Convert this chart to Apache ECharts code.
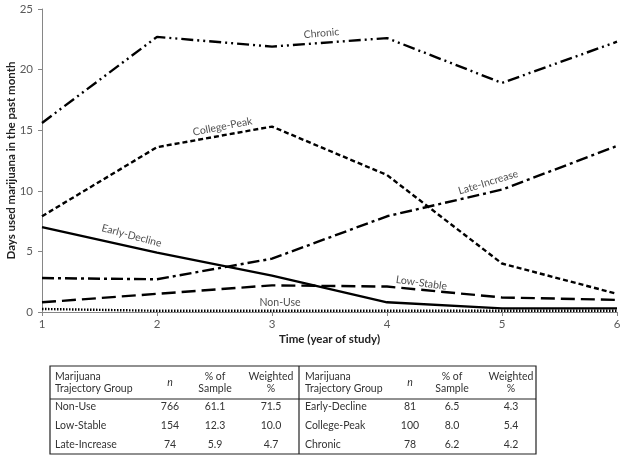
<!DOCTYPE html>
<html><head><meta charset="utf-8">
<script src="https://cdn.jsdelivr.net/npm/echarts@6/dist/echarts.min.js"></script>
<style>html,body{margin:0;padding:0;background:#fff}#c{width:625px;height:460px}</style>
</head><body><div id="c"></div>
<script>
const years = [1, 2, 3, 4, 5, 6];
const yTicks = [0, 5, 10, 15, 20, 25];
const chronic      = [15.6, 22.7, 21.9, 22.6, 18.9, 22.3];
const collegePeak  = [7.9, 13.6, 15.3, 11.3, 4.0, 1.5];
const lateIncrease = [2.8, 2.7, 4.4, 7.9, 10.1, 13.7];
const earlyDecline = [7.0, 4.9, 3.0, 0.8, 0.3, 0.3];
const lowStable    = [0.8, 1.5, 2.2, 2.1, 1.2, 1.0];
const nonUse       = [0.25, 0.1, 0.1, 0.1, 0.1, 0.1];

// inline label anchors (data coordinates)
const labelNames = ['Chronic', 'College-Peak', 'Late-Increase', 'Early-Decline', 'Low-Stable', 'Non-Use'];
const labelX = [3.43, 2.57, 4.88, 1.78, 4.3, 3.07];
const labelY = [23.0, 15.3, 10.7, 6.3, 2.4, 0.8];
const labelRot = [5, 11, 17, -15, -8, 0];

// table
const tableHeader = [['Marijuana', 'Trajectory Group'], ['n'], ['% of', 'Sample'], ['Weighted', '%']];
const tableLeftGroups = ['Non-Use', 'Low-Stable', 'Late-Increase'];
const tableLeftN = ['766', '154', '74'];
const tableLeftPct = ['61.1', '12.3', '5.9'];
const tableLeftW = ['71.5', '10.0', '4.7'];
const tableRightGroups = ['Early-Decline', 'College-Peak', 'Chronic'];
const tableRightN = ['81', '100', '78'];
const tableRightPct = ['6.5', '8.0', '6.2'];
const tableRightW = ['4.3', '5.4', '4.2'];

const FONT = 'Lato';
const seriesDefs = [
  { name: 'Chronic', data: chronic, type: [12, 4, 2, 4, 2, 4] },
  { name: 'College-Peak', data: collegePeak, type: [5, 3] },
  { name: 'Late-Increase', data: lateIncrease, type: [12, 4, 3, 4] },
  { name: 'Early-Decline', data: earlyDecline, type: 'solid' },
  { name: 'Low-Stable', data: lowStable, type: [14, 6] },
  { name: 'Non-Use', data: nonUse, type: [1.5, 1.5] }
];

const series = seriesDefs.map(d => ({
  name: d.name, type: 'line', symbol: 'none', silent: true,
  data: years.map((x, i) => [x, d.data[i]]),
  lineStyle: { color: '#000', width: 2.4, type: d.type }
}));
series.push({
  type: 'scatter', symbolSize: 0, silent: true,
  data: labelNames.map((n, i) => ({ value: [labelX[i], labelY[i]], name: n,
    label: { show: true, position: 'inside', formatter: n, rotate: labelRot[i],
      color: '#222', fontSize: 10.5, fontFamily: FONT } }))
});

// table graphics
const g = [];
const tL = 50, tR = 536, tT = 366, tB = 454, hB = 399, mid = 299;
g.push({ type: 'rect', shape: { x: tL, y: tT, width: tR - tL, height: tB - tT }, style: { fill: 'none', stroke: '#222', lineWidth: 1.2 } });
g.push({ type: 'line', shape: { x1: tL, y1: hB, x2: tR, y2: hB }, style: { stroke: '#222', lineWidth: 1 } });
g.push({ type: 'line', shape: { x1: mid, y1: tT, x2: mid, y2: tB }, style: { stroke: '#222', lineWidth: 1.2 } });
const rowsY = [407, 426, 445];
function txt(x, y, s, align, italic) {
  g.push({ type: 'text', x: x, y: y, style: { text: s, fill: '#333', font: (italic ? 'italic ' : '') + '10.5px ' + FONT, textAlign: align, textVerticalAlign: 'middle' } });
}
function half(x0, colX, groups, ns, pcts, ws) {
  txt(x0, 377, tableHeader[0][0], 'left');
  txt(x0, 389, tableHeader[0][1], 'left');
  txt(colX[0], 383, tableHeader[1][0], 'center', true);
  txt(colX[1], 377, tableHeader[2][0], 'center');
  txt(colX[1], 389, tableHeader[2][1], 'center');
  txt(colX[2], 377, tableHeader[3][0], 'center');
  txt(colX[2], 389, tableHeader[3][1], 'center');
  groups.forEach((gr, i) => {
    txt(x0, rowsY[i], gr, 'left');
    txt(colX[0], rowsY[i], ns[i], 'center');
    txt(colX[1], rowsY[i], pcts[i], 'center');
    txt(colX[2], rowsY[i], ws[i], 'center');
  });
}
half(55, [170, 215, 271], tableLeftGroups, tableLeftN, tableLeftPct, tableLeftW);
half(305, [410, 452, 511], tableRightGroups, tableRightN, tableRightPct, tableRightW);

const chart = echarts.init(document.getElementById('c'), null, { renderer: 'canvas' });
chart.setOption({
  animation: false,
  backgroundColor: '#fff',
  grid: { left: 42, right: 8, top: 9, bottom: 148, containLabel: false, outerBoundsMode: 'none' },
  xAxis: {
    type: 'value', min: 1, max: 6, interval: 1,
    name: 'Time (year of study)', nameLocation: 'middle', nameGap: 21, nameMoveOverlap: false,
    nameTextStyle: { fontFamily: FONT, fontWeight: 'bold', fontSize: 11.5, color: '#222' },
    axisLine: { lineStyle: { color: '#868686', width: 1 } },
    axisTick: { show: true, length: 4, lineStyle: { color: '#868686' } },
    axisLabel: { color: '#595959', fontSize: 11.5, fontFamily: FONT, margin: 6, formatter: v => years.includes(v) ? String(v) : '' },
    splitLine: { show: false }
  },
  yAxis: {
    type: 'value', min: 0, max: 25, interval: 5,
    name: 'Days used marijuana in the past month', nameLocation: 'middle', nameGap: 25, nameMoveOverlap: false,
    nameTextStyle: { fontFamily: FONT, fontWeight: 'bold', fontSize: 11.5, color: '#222' },
    axisLine: { show: true, lineStyle: { color: '#868686', width: 1 } },
    axisTick: { show: true, length: 4, lineStyle: { color: '#868686' } },
    axisLabel: { color: '#595959', fontSize: 11.5, fontFamily: FONT, margin: 9, formatter: v => yTicks.includes(v) ? String(v) : '' },
    splitLine: { show: false }
  },
  series: series,
  graphic: g
});
</script></body></html>
